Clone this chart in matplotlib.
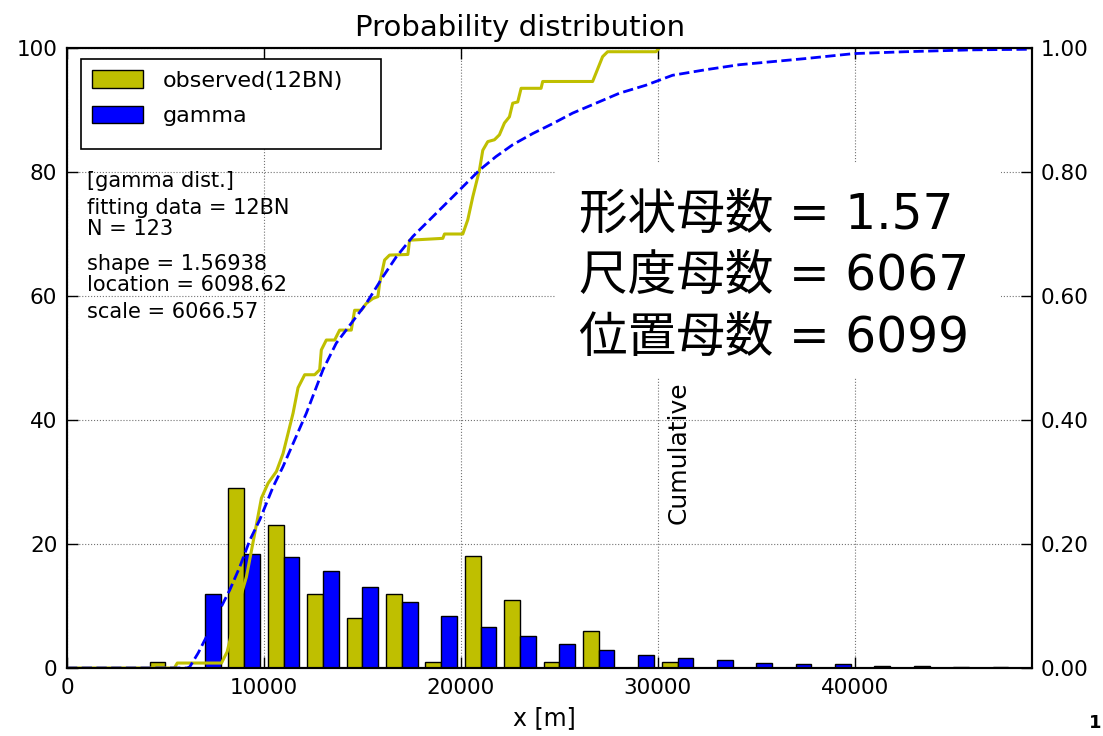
import matplotlib
matplotlib.use("Agg")
import matplotlib.pyplot as plt
from matplotlib.patches import Rectangle
from matplotlib.ticker import FormatStrFormatter
import numpy as np

plt.rcParams['font.family'] = ['DejaVu Sans']

# histogram bins (left edges, width 2000 m)
bin_left = np.arange(4000, 46001, 2000)
observed = [1, 0, 29, 23, 12, 8, 12, 1, 18, 11, 1, 6, 0, 1,
            0, 0, 0, 0, 0, 0, 0, 0]
gamma_hist = [0, 12, 18.4, 17.9, 15.6, 13.1, 10.6, 8.4, 6.6, 5.1, 3.9,
              2.85, 2.1, 1.55, 1.3, 0.85, 0.7, 0.65, 0.4, 0.4, 0.2, 0.2]

# cumulative curves
obs_cum_x = [0, 5450, 5600, 7844, 8130, 8773, 9110, 9533, 9872, 10210, 10634,
             10971, 11479, 11731, 12069, 12576, 12830, 12914, 13168, 13590,
             13844, 14435, 14604, 14942, 15195, 15533, 15787, 15872, 16126,
             16379, 17309, 17394, 19083, 19168, 20098, 20351, 20605, 20943,
             21112, 21366, 21704, 21957, 22211, 22465, 22633, 22887, 23058,
             24072, 24154, 26690, 27196, 27450, 29904, 30071]
obs_cum_y = [0, 0, 0.008, 0.008, 0.026, 0.110, 0.147, 0.217, 0.274, 0.298,
             0.317, 0.346, 0.411, 0.452, 0.473, 0.473, 0.481, 0.513, 0.529,
             0.529, 0.545, 0.545, 0.577, 0.577, 0.588, 0.596, 0.599, 0.620,
             0.658, 0.666, 0.667, 0.690, 0.693, 0.700, 0.700, 0.723, 0.760,
             0.803, 0.835, 0.849, 0.852, 0.860, 0.879, 0.889, 0.911, 0.913,
             0.935, 0.935, 0.946, 0.946, 0.986, 0.994, 0.994, 1.0]

gam_cum_x = [0, 6100, 6237, 6658, 7252, 7758, 8266, 8773, 9280, 9787, 10463,
             10971, 11479, 12154, 12998, 13674, 14435, 15195, 16040, 16718,
             17562, 18576, 19590, 20943, 21788, 22633, 23647, 24661, 25675,
             26860, 28043, 29397, 30745, 32438, 34128, 35817, 37510, 39959,
             42581, 45958, 49000]
gam_cum_y = [0, 0, 0.002, 0.024, 0.061, 0.094, 0.126, 0.163, 0.206, 0.239,
             0.292, 0.325, 0.362, 0.411, 0.481, 0.524, 0.556, 0.588, 0.631,
             0.663, 0.696, 0.728, 0.760, 0.803, 0.825, 0.844, 0.862, 0.878,
             0.895, 0.911, 0.927, 0.940, 0.956, 0.965, 0.973, 0.978, 0.983,
             0.991, 0.994, 0.997, 0.998]

info_lines = ["[gamma dist.]", "fitting data = 12BN", "N = 123",
              "shape = 1.56938", "location = 6098.62", "scale = 6066.57"]
info_y = [77.6, 73.2, 69.8, 64.2, 60.85, 56.45]
jp_lines = ["形状母数 = 1.57", "尺度母数 = 6067", "位置母数 = 6099"]

olive = '#bfbf00'
blue = '#0000ff'

fig = plt.figure(figsize=(11.03, 7.36), dpi=100)
ax = fig.add_axes([0.06074, 0.09239, 0.87489, 0.84239])
ax.set_axisbelow(True)

ax.bar(bin_left + 200, observed, width=800, align='edge', color=olive,
       edgecolor='k', linewidth=1.0, label='observed(12BN)')
ax.bar(bin_left + 1000, gamma_hist, width=800, align='edge', color=blue,
       edgecolor='k', linewidth=1.0, label='gamma')

ax.set_xlim(0, 49000)
ax.set_ylim(0, 100)
ax.set_xticks(np.arange(0, 40001, 10000))
ax.set_yticks(np.arange(0, 101, 20))
ax.grid(True, linestyle=':', color='0.45', linewidth=0.8)
ax.tick_params(direction='in', length=8, width=1, top=True, right=False,
               labelsize=15.5, pad=7)
for s in ax.spines.values():
    s.set_linewidth(1.5)

ax.set_title('Probability distribution', fontsize=21, x=0.47, y=1.02, pad=0)
ax.set_xlabel('x [m]', fontsize=17)
ax.xaxis.set_label_coords(0.495, -0.062)

for t, y in zip(info_lines, info_y):
    ax.text(1000, y, t, fontsize=15, va='baseline', ha='left')

# legend with a separate frame
ax.add_patch(Rectangle((0.0142, 0.8366), 0.3112, 0.1452, transform=ax.transAxes,
                       facecolor='white', edgecolor='k', linewidth=1.2, zorder=4))
leg = ax.legend(loc='upper left', bbox_to_anchor=(0.0142, 0.9818),
                borderaxespad=0, borderpad=0.5, frameon=False, fontsize=16,
                handlelength=2.3, handleheight=0.85, handletextpad=0.9,
                labelspacing=0.66)
leg.set_zorder(5)

# white box with the Japanese parameter text
ax.add_patch(Rectangle((0.5067, 0.4677), 0.4612, 0.3468, transform=ax.transAxes,
                       facecolor='white', edgecolor='none', zorder=1.5))
for t, y in zip(jp_lines, [0.708, 0.6097, 0.5102]):
    ax.text(0.5306, y, t, transform=ax.transAxes, fontsize=35, va='baseline',
            ha='left', family=['DejaVu Sans', 'Noto Sans CJK JP'], zorder=3)

ax.text(0.634, 0.347, 'Cumulative', transform=ax.transAxes, rotation=90,
        fontsize=18, ha='center', va='center')

ax2 = ax.twinx()
ax2.plot(obs_cum_x, obs_cum_y, color=olive, linewidth=2.2)
ax2.plot(gam_cum_x, gam_cum_y, color=blue, linewidth=2.0, linestyle='--')
ax2.set_ylim(0, 1)
ax2.set_yticks(np.arange(0, 1.01, 0.2))
ax2.yaxis.set_major_formatter(FormatStrFormatter('%.2f'))
ax2.tick_params(direction='in', length=8, width=1, labelsize=15.5, pad=6)
for s in ax2.spines.values():
    s.set_linewidth(1.5)

fig.text(0.9985, 0.005, '1', fontsize=13, fontweight='bold', va='bottom', ha='right')

fig.savefig('out.png', dpi=100)
